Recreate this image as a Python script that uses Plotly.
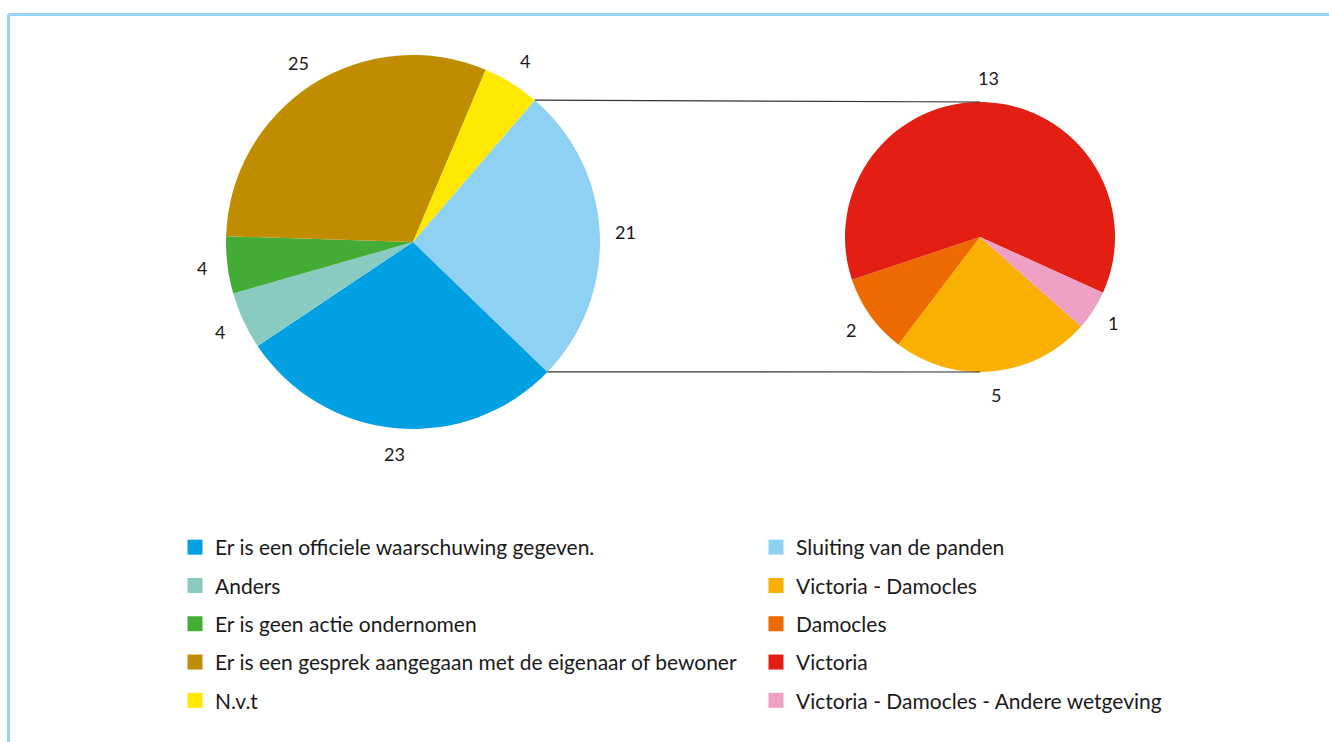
import math
import plotly.graph_objects as go

# ---- data ----
main_labels = ["Er is een officiele waarschuwing gegeven.", "Anders", "Er is geen actie ondernomen",
               "Er is een gesprek aangegaan met de eigenaar of bewoner", "N.v.t", "Sluiting van de panden"]
main_values = [23, 4, 4, 25, 4, 21]
main_colors = ["#00a0e2", "#89cbc1", "#43ac34", "#c08d00", "#ffe900", "#8fd1f3"]

sub_labels = ["Victoria - Damocles", "Damocles", "Victoria", "Victoria - Damocles - Andere wetgeving"]
sub_values = [5, 2, 13, 1]
sub_colors = ["#f9b000", "#ec6a00", "#e31e12", "#f0a0c5"]

W, H = 1329, 742
FONT = "Lato"

# layout geometry (pixels)
L_CX, L_CY, L_R, L_ROT = 413, 242, 187, 134
R_CX, R_CY, R_R, R_ROT = 980, 237, 135, 131.5


def dom(cx, cy, r):
    return dict(x=[(cx - r) / W, (cx + r) / W], y=[1 - (cy + r) / H, 1 - (cy - r) / H])


fig = go.Figure()
fig.add_trace(go.Pie(labels=main_labels, values=main_values, sort=False, direction="clockwise",
                     rotation=L_ROT, marker=dict(colors=main_colors, line=dict(width=0)),
                     textinfo="none", hoverinfo="label+value", showlegend=False,
                     domain=dom(L_CX, L_CY, L_R)))
fig.add_trace(go.Pie(labels=sub_labels, values=sub_values, sort=False, direction="clockwise",
                     rotation=R_ROT, marker=dict(colors=sub_colors, line=dict(width=0)),
                     textinfo="none", hoverinfo="label+value", showlegend=False,
                     domain=dom(R_CX, R_CY, R_R)))

# legend entries (left column: main pie except last; right column: last main + sub pie)
left_items = list(zip(main_labels[:-1], main_colors[:-1]))
right_items = [(main_labels[-1], main_colors[-1])] + list(zip(sub_labels, sub_colors))
for i, (lab, col) in enumerate(left_items):
    fig.add_trace(go.Scatter(x=[None], y=[None], mode="markers", name=lab, legend="legend",
                             legendgroup="L%d" % i,
                             marker=dict(symbol="square", size=15, color=col)))
for i, (lab, col) in enumerate(right_items):
    fig.add_trace(go.Scatter(x=[None], y=[None], mode="markers", name=lab, legend="legend2",
                             legendgroup="R%d" % i,
                             marker=dict(symbol="square", size=15, color=col)))


def slice_mids(values, rot):
    tot = sum(values)
    acc = 0
    mids = []
    for v in values:
        mids.append(rot + 360 * (acc + v / 2) / tot)
        acc += v
    return mids


def pt(cx, cy, d, ang):
    a = math.radians(ang)
    return cx + d * math.sin(a), cy - d * math.cos(a)


annotations = []
lab_font = dict(family=FONT, size=18, color="#1a1a1a")
for v, m in zip(main_values, slice_mids(main_values, L_ROT)):
    x, y = pt(L_CX, L_CY, L_R + 26, m)
    annotations.append(dict(x=x / W, y=1 - y / H, xref="paper", yref="paper", text=str(v),
                            xanchor="center", yanchor="middle", showarrow=False, font=lab_font))
for v, m in zip(sub_values, slice_mids(sub_values, R_ROT)):
    x, y = pt(R_CX, R_CY, R_R + 24, m)
    annotations.append(dict(x=x / W, y=1 - y / H, xref="paper", yref="paper", text=str(v),
                            xanchor="center", yanchor="middle", showarrow=False, font=lab_font))

# connector lines from the "Sluiting" slice edges to the top/bottom of the sub pie
tot = sum(main_values)
end_ang = L_ROT + 360 * tot / tot
start_ang = L_ROT + 360 * (tot - main_values[-1]) / tot
p_top = pt(L_CX, L_CY, L_R, start_ang)
p_bot = pt(L_CX, L_CY, L_R, end_ang)
shapes = [
    dict(type="line", xref="paper", yref="paper", x0=p_top[0] / W, y0=1 - p_top[1] / H,
         x1=R_CX / W, y1=1 - (R_CY - R_R) / H, line=dict(color="#333333", width=1.2)),
    dict(type="line", xref="paper", yref="paper", x0=p_bot[0] / W, y0=1 - p_bot[1] / H,
         x1=R_CX / W, y1=1 - (R_CY + R_R) / H, line=dict(color="#333333", width=1.2)),
    # frame
    dict(type="line", xref="paper", yref="paper", x0=8.5 / W, y0=1 - 14.5 / H, x1=1.0, y1=1 - 14.5 / H,
         line=dict(color="#99d3f3", width=3)),
    dict(type="line", xref="paper", yref="paper", x0=8.5 / W, y0=1 - 14.5 / H, x1=8.5 / W, y1=0,
         line=dict(color="#99d3f3", width=3)),
]

legend_common = dict(orientation="v", xanchor="left", yanchor="top", traceorder="grouped",
                     tracegroupgap=8, font=dict(family=FONT, size=21, color="#1a1a1a"),
                     bgcolor="rgba(0,0,0,0)", itemclick=False, itemdoubleclick=False)

fig.update_layout(
    width=W, height=H, margin=dict(l=0, r=0, t=0, b=0),
    paper_bgcolor="white", plot_bgcolor="white",
    xaxis=dict(visible=False), yaxis=dict(visible=False),
    legend=dict(x=175 / W, y=1 - 527 / H, **legend_common),
    legend2=dict(x=756 / W, y=1 - 527 / H, **legend_common),
    annotations=annotations, shapes=shapes,
    font=dict(family=FONT),
)

fig.write_html("out.html", config={"displayModeBar": False},
               post_script="document.body.style.margin='0';document.body.style.overflow='hidden';")
